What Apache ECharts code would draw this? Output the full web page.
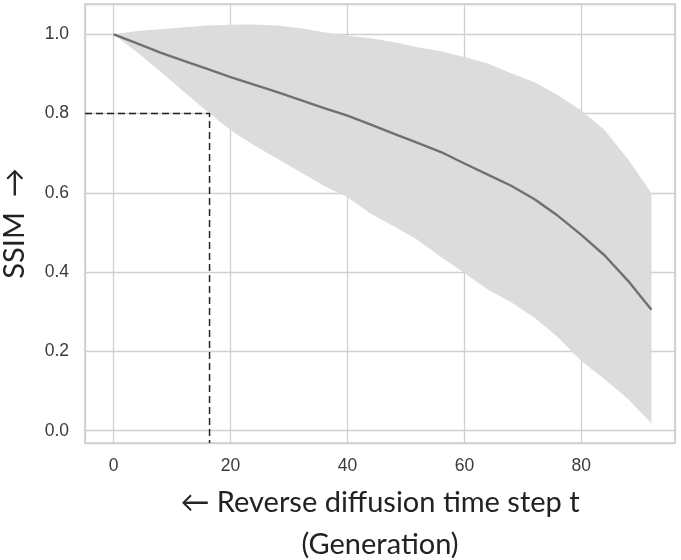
<!DOCTYPE html>
<html><head><meta charset="utf-8">
<script src="https://cdn.jsdelivr.net/npm/echarts@6/dist/echarts.min.js"></script>
<style>html,body{margin:0;padding:0;background:#fff}#c{width:681px;height:560px}</style>
</head><body><div id="c"></div>
<script>
// Reverse diffusion time step t
const steps = [0,4,8,12,16,20,24,28,32,36,40,44,48,52,56,60,64,68,72,76,80,84,88,92];
// mean SSIM
const ssimMean = [1.000,0.977,0.954,0.933,0.913,0.892,0.873,0.854,0.834,0.814,0.795,0.772,0.749,0.726,0.703,0.674,0.646,0.618,0.584,0.542,0.494,0.442,0.378,0.305];
// upper edge of the spread band
const ssimUpper = [1.000,1.008,1.013,1.018,1.022,1.024,1.025,1.022,1.015,1.005,0.996,0.990,0.980,0.967,0.957,0.943,0.926,0.902,0.879,0.846,0.808,0.758,0.685,0.599];
// lower edge of the spread band
const ssimLower = [1.000,0.955,0.906,0.855,0.805,0.758,0.720,0.686,0.652,0.617,0.589,0.547,0.515,0.481,0.438,0.398,0.356,0.324,0.285,0.236,0.176,0.130,0.080,0.018];
// reference: SSIM 0.8 reached at t ≈ 16.4
const refT = 16.4;
const refSSIM = 0.8;
const xMin = -4.91, xMax = 96.03, yMin = -0.031, yMax = 1.0764;

const chart = echarts.init(document.getElementById('c'), null, {renderer: 'canvas'});
const titleFont = 'Lato, "Open Sans", sans-serif';
const tickFont = '"Liberation Sans", Arial, sans-serif';

chart.setOption({
  animation: false,
  backgroundColor: '#ffffff',
  grid: {left: 85, right: 6, top: 4, bottom: 117, containLabel: false, outerBoundsMode: 'none',
         show: true, borderColor: '#cccccc', borderWidth: 1.6, backgroundColor: 'transparent'},
  xAxis: {
    type: 'value', min: xMin, max: xMax,
    axisLine: {show: false}, axisTick: {show: false},
    splitLine: {show: true, lineStyle: {color: '#d0d0d0', width: 1.3}},
    axisLabel: {
      showMinLabel: false, showMaxLabel: false, margin: 14,
      color: '#3a3a3a', fontSize: 17.5, fontFamily: tickFont,
      formatter: v => Math.abs(v / 20 - Math.round(v / 20)) < 1e-6 ? String(Math.round(v)) : ''
    },
    name: '← Reverse diffusion time step t\n(Generation)',
    nameLocation: 'middle', nameGap: 39,
    nameTextStyle: {fontSize: 29, fontFamily: titleFont, color: '#222222', lineHeight: 42}
  },
  yAxis: {
    type: 'value', min: yMin, max: yMax,
    axisLine: {show: false}, axisTick: {show: false},
    splitLine: {show: true, lineStyle: {color: '#d0d0d0', width: 1.3}},
    axisLabel: {
      showMinLabel: false, showMaxLabel: false, margin: 16,
      color: '#3a3a3a', fontSize: 17.5, fontFamily: tickFont,
      formatter: v => Math.abs(v / 0.2 - Math.round(v / 0.2)) < 1e-6 ? (Math.round(v * 10) / 10).toFixed(1) : ''
    },
    name: 'SSIM  →',
    nameLocation: 'middle', nameRotate: 90, nameGap: 56,
    nameTextStyle: {fontSize: 29, fontFamily: titleFont, color: '#222222'}
  },
  series: [
    {
      type: 'custom', silent: true, z: 1,
      data: [[steps[0], ssimMean[0]]],
      encode: {x: 0, y: 1},
      renderItem: (params, api) => {
        const pts = [];
        for (let i = 0; i < steps.length; i++) pts.push(api.coord([steps[i], ssimUpper[i]]));
        for (let i = steps.length - 1; i >= 0; i--) pts.push(api.coord([steps[i], ssimLower[i]]));
        return {type: 'polygon', shape: {points: pts}, style: {fill: '#dcdcdc', stroke: 'none'}};
      }
    },
    {
      type: 'line', z: 3, symbol: 'none', silent: true,
      data: steps.map((t, i) => [t, ssimMean[i]]),
      lineStyle: {color: '#707070', width: 2.4}
    },
    {
      type: 'line', z: 4, symbol: 'none', silent: true,
      data: [[xMin, refSSIM], [refT, refSSIM], [refT, yMin]],
      lineStyle: {color: '#222222', width: 1.5, type: [7, 4]}
    }
  ]
});
</script>
</body></html>
